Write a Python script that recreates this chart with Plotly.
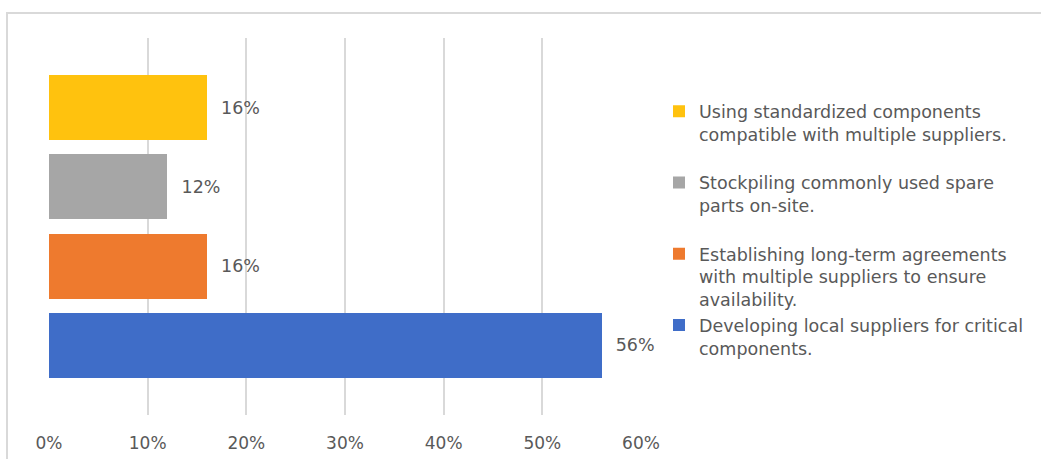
import plotly.graph_objects as go

# Strategies and the share of respondents choosing each (bottom to top)
strategies = [
    "Developing local suppliers for critical<br>components.",
    "Establishing long-term agreements<br>with multiple suppliers to ensure<br>availability.",
    "Stockpiling commonly used spare<br>parts on-site.<br> ",
    "Using standardized components<br>compatible with multiple suppliers.<br> ",
]
shares = [0.56, 0.16, 0.12, 0.16]
colors = ["#3F6DC8", "#EE7A2E", "#A6A6A6", "#FFC20E"]
x_ticks = [0, 0.1, 0.2, 0.3, 0.4, 0.5, 0.6]
x_tick_labels = ["0%", "10%", "20%", "30%", "40%", "50%", "60%"]

FONT = "DejaVu Sans"
TEXT_COLOR = "#595959"

fig = go.Figure()
for i, (name, val, col) in enumerate(zip(strategies, shares, colors)):
    fig.add_trace(go.Bar(
        x=[val],
        y=[i],
        orientation="h",
        name=name,
        marker=dict(color=col, line=dict(width=0)),
        text=["  " + f"{round(val * 100)}%"],
        textposition="outside",
        textfont=dict(family=FONT, size=17.5, color=TEXT_COLOR),
        cliponaxis=False,
        width=0.82,
        legendgroup=str(i),
    ))

fig.update_layout(
    width=1041,
    height=459,
    margin=dict(l=49, r=400, t=38, b=44, autoexpand=False),
    paper_bgcolor="white",
    plot_bgcolor="white",
    barmode="stack",
    showlegend=True,
    legend=dict(
        x=1.0 + 18 / 592, xanchor="left", xref="paper",
        y=0.853, yanchor="top",
        traceorder="reversed",
        valign="top",
        font=dict(family=FONT, size=17.5, color=TEXT_COLOR),
        tracegroupgap=0,
        bgcolor="rgba(0,0,0,0)",
    ),
    xaxis=dict(
        range=[0, 0.6],
        tickvals=x_ticks,
        ticktext=x_tick_labels,
        showgrid=True,
        gridcolor="#D9D9D9",
        gridwidth=1.5,
        zeroline=False,
        showline=False,
        ticks="",
        automargin=False,
        ticklabelstandoff=16,
        tickfont=dict(family=FONT, size=17, color=TEXT_COLOR),
    ),
    yaxis=dict(
        range=[-0.88, 3.88],
        showticklabels=False,
        showgrid=False,
        zeroline=False,
        showline=False,
        ticks="",
        automargin=False,
    ),
    shapes=[dict(
        type="rect", xref="paper", yref="paper",
        x0=-42 / 592, x1=1.2 + 400 / 592,
        y0=-0.5, y1=1 + 25 / 377,
        line=dict(color="#D9D9D9", width=2),
        fillcolor="rgba(0,0,0,0)",
        layer="below",
    )],
)

fig.write_html("out.html")
